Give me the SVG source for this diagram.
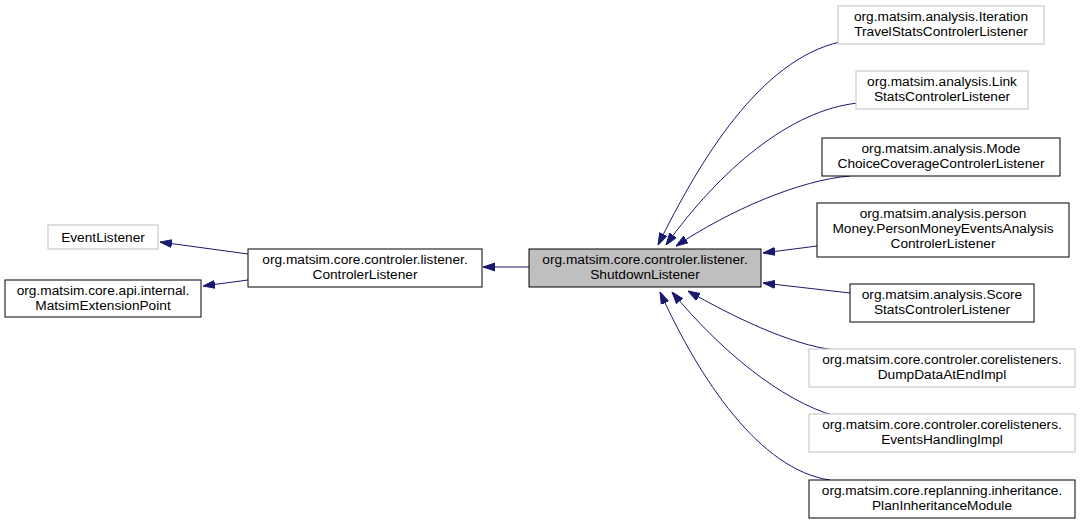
<svg xmlns="http://www.w3.org/2000/svg" width="1081" height="525" viewBox="0 0 1081 525">
<style>
.n rect{fill:#fff;stroke:#000;stroke-width:1}
.g rect{stroke:#bfbfbf}
.s rect{fill:#bfbfbf}
text{font-family:"Liberation Sans",Arial,sans-serif;font-size:13.7px;text-anchor:middle;fill:#000}
.e path{fill:none;stroke:#191970;stroke-width:1;marker-start:url(#a)}
</style>
<defs><marker id="a" viewBox="0 0 12 10" refX="0" refY="5" markerWidth="12" markerHeight="10" markerUnits="userSpaceOnUse" orient="auto"><path d="M12,1 L0,5 L12,9 Z" fill="#191970" stroke="#191970"/></marker></defs>
<rect width="1081" height="525" fill="#fff"/>
<g class="e">
<path d="M160,242 L248,254"/>
<path d="M203,286 L248,280"/>
<path d="M483,267 L529,267"/>
<path d="M658,245 C700,160 760,60 840,42"/>
<path d="M666,245 C720,170 790,110 858,103"/>
<path d="M676,246 C730,210 800,180 850,176"/>
<path d="M763,253 L817,246"/>
<path d="M763,283 L850,293"/>
<path d="M688,291 C730,315 790,345 835,350"/>
<path d="M672,292 C720,350 780,400 835,416"/>
<path d="M660,292 C700,380 760,470 830,480"/>
</g>
<g id="n_event" class="n g"><rect x="48" y="225" width="110" height="24"/><text x="103" y="242">EventListener</text></g>
<g id="n_mep" class="n"><rect x="5" y="280" width="196" height="37"/><text x="103" y="295">org.matsim.core.api.internal.</text><text x="103" y="310">MatsimExtensionPoint</text></g>
<g id="n_cl" class="n"><rect x="248" y="249" width="234" height="38"/><text x="365" y="264">org.matsim.core.controler.listener.</text><text x="365" y="279">ControlerListener</text></g>
<g id="n_sl" class="n s"><rect x="529" y="249" width="232" height="38"/><text x="645" y="264">org.matsim.core.controler.listener.</text><text x="645" y="279">ShutdownListener</text></g>
<g id="n_it" class="n g"><rect x="838" y="6" width="206" height="38"/><text x="941" y="21">org.matsim.analysis.Iteration</text><text x="941" y="36">TravelStatsControlerListener</text></g>
<g id="n_link" class="n g"><rect x="856" y="71" width="172" height="38"/><text x="942" y="86">org.matsim.analysis.Link</text><text x="942" y="101">StatsControlerListener</text></g>
<g id="n_mode" class="n"><rect x="822" y="138" width="238" height="38"/><text x="941" y="153">org.matsim.analysis.Mode</text><text x="941" y="168">ChoiceCoverageControlerListener</text></g>
<g id="n_person" class="n"><rect x="817" y="203" width="252" height="54"/><text x="943" y="218">org.matsim.analysis.person</text><text x="943" y="233">Money.PersonMoneyEventsAnalysis</text><text x="943" y="248">ControlerListener</text></g>
<g id="n_score" class="n"><rect x="850" y="284" width="184" height="38"/><text x="942" y="299">org.matsim.analysis.Score</text><text x="942" y="314">StatsControlerListener</text></g>
<g id="n_dump" class="n g"><rect x="809" y="349" width="266" height="38"/><text x="942" y="364">org.matsim.core.controler.corelisteners.</text><text x="942" y="379">DumpDataAtEndImpl</text></g>
<g id="n_eh" class="n g"><rect x="809" y="414" width="266" height="38"/><text x="942" y="429">org.matsim.core.controler.corelisteners.</text><text x="942" y="444">EventsHandlingImpl</text></g>
<g id="n_pim" class="n"><rect x="809" y="480" width="266" height="38"/><text x="942" y="495">org.matsim.core.replanning.inheritance.</text><text x="942" y="510">PlanInheritanceModule</text></g>
</svg>
